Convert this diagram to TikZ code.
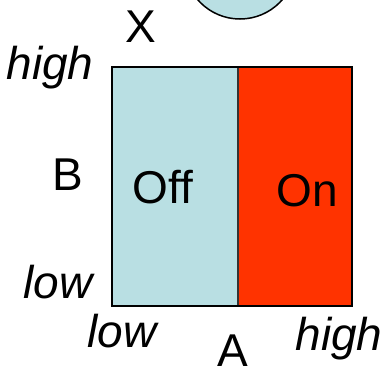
\documentclass[tikz,border=0pt]{standalone}
\usepackage{fontspec}
\setmainfont{Liberation Sans}
\usetikzlibrary{positioning}
\definecolor{offblue}{RGB}{185,223,227}
\definecolor{onred}{RGB}{255,51,0}

\begin{document}
\begin{tikzpicture}[x=1pt, y=-1pt,
    lbl/.style={font=\fontsize{46}{50}\selectfont, anchor=base, inner sep=0pt},
    lvl/.style={font=\fontsize{46}{50}\selectfont\itshape, anchor=base, inner sep=0pt}]
    \useasboundingbox (0,0) rectangle (390,369);
    \clip (0,0) rectangle (390,369);

    % circle at the top
    \draw[fill=offblue, line width=1.5pt] (240,-37) circle (56pt);

    % regions
    \fill[offblue] (112,67) rectangle (238,306);
    \fill[onred] (238,67) rectangle (352,306);
    \draw[black!80, line width=1.6pt] (238,67) -- (238,306);
    \draw[line width=2.8pt] (112,67) rectangle (352,306);

    % region labels
    \node[lbl] (off) at (163,203) {Off};
    \node[lbl] (on) at (307,206) {On};

    % axis names
    \node[lbl] (x) at (141,43) {X};
    \node[lbl] (b) at (68,190) {B};
    \node[lbl] (a) at (233,366) {A};

    % axis levels
    \node[lvl] (bhigh) at (50,79) {high};
    \node[lvl] (blow) at (58,298) {low};
    \node[lvl] (alow) at (122,347) {low};
    \node[lvl] (ahigh) at (339,350) {high};
\end{tikzpicture}
\end{document}
